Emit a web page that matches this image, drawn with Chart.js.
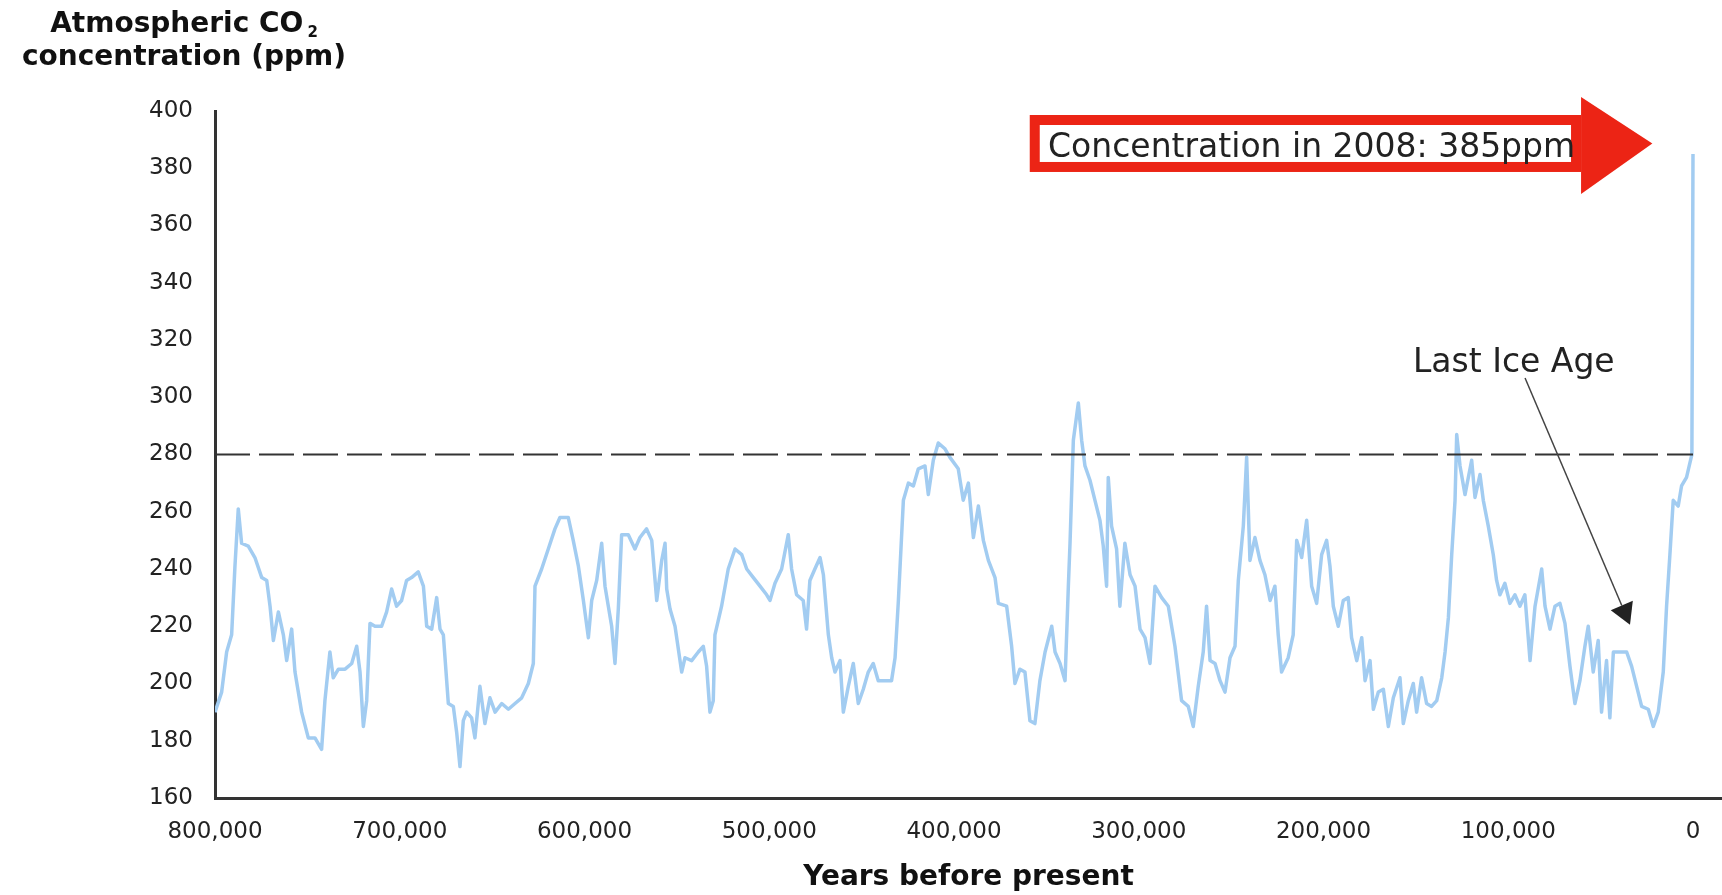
<!DOCTYPE html>
<html>
<head>
<meta charset="utf-8">
<title>Atmospheric CO2 concentration</title>
<script src="https://cdn.jsdelivr.net/npm/chart.js@4/dist/chart.umd.min.js"></script>
<style>
    body { margin: 0; background: #fff; }
    #wrap { position: relative; width: 1722px; height: 895px; }
    #co2Chart { position: absolute; left: 0; top: 0; }
    #yTitle {
        position: absolute; left: 0; top: 6px; width: 368px;
        text-align: center; color: #111;
        font: bold 28px 'DejaVu Sans', sans-serif; line-height: 33px;
    }
    #yTitle sub { font-size: 15px; line-height: 0; vertical-align: -5px; margin-left: 4px; }
</style>
</head>
<body>
<div id="wrap">
    <canvas id="co2Chart" width="1722" height="895"></canvas>
    <div id="yTitle">Atmospheric CO<sub>2</sub><br>concentration (ppm)</div>
</div>
<script>
// Years before present (left to right)
const years = [
    800000, 796400, 793700, 791000, 789200, 787400, 785600, 782000, 778400, 774700,
    772000, 770200, 768400, 765700, 763000, 761200, 758500, 756700, 753100, 749500,
    745900, 742300, 740500, 737800, 736000, 733200, 729600, 726000, 723300, 721500,
    719700, 717900, 716100, 713400, 709800, 707100, 704400, 701700, 699000, 696300,
    693600, 690000, 687200, 685400, 682700, 680000, 678200, 676400, 673700, 671000,
    669200, 667400, 665600, 663800, 661100, 659300, 656600, 653900, 651200, 648400,
    644800, 641200, 637600, 634000, 630400, 627700, 626800, 623200, 619600, 616000,
    613300, 608800, 606100,
    603300, 600600, 597900, 596100, 593400, 590700, 588900, 587100, 585300, 583500,
    581700, 579900, 576300, 572700, 570000, 566400, 563600, 560900, 558200, 556400,
    555500, 553700, 551000, 547400, 545600, 542000, 538400, 535700, 533900, 532100,
    530300, 529400, 525800, 522200, 518500, 514900, 512200, 508600, 505000, 501400,
    499600, 496900, 493300, 489700, 487900, 485200, 481600, 479800, 478000, 475300,
    472500, 470700, 469800, 468000, 466200, 464400, 461700, 459900, 457200, 454500,
    451800, 449100, 446400, 443700, 441000, 437400, 433800, 431900, 430100, 427400,
    424700, 422000, 419300, 415700, 413900, 411200, 408500, 404900,
    402200, 397700, 395000, 392200, 389500, 386800, 384100, 381400, 377800, 376000,
    371500, 368800, 367000, 364300, 361600, 358900, 356200, 353500, 350700, 347100,
    345300, 342600, 339900, 338100, 337200, 335400, 332700, 330900, 329100, 326400,
    323700, 321000, 319200, 317400, 316500, 314700, 312000, 310200, 307500, 304700,
    302000, 299300, 296600, 293900, 291200, 287600, 284000, 280400, 276800, 273200,
    270500, 267800, 265100, 263300, 261400, 258700, 256000, 253300, 250600, 247900,
    246100, 243400, 241600, 239800, 237100, 234400, 231700, 228900, 226300, 224500,
    222700, 219100, 216400, 214500, 211800, 209100, 206400, 203700,
    201000, 198300, 196500, 194700, 192000, 189300, 186600, 184800, 182000, 179300,
    177500, 174800, 173000, 170300, 167600, 164900, 162200, 158600, 156800, 154100,
    151400, 149600, 146900, 144200, 141500, 138700, 136000, 134200, 132400, 130600,
    128800, 127900, 126100, 123400, 119800, 118000, 115300, 113500, 110800, 108100,
    106300, 104500, 101800, 99100, 96400, 93700, 91000, 88200, 85500, 81900,
    80100, 77400, 74700, 72000, 69300, 66600, 63900, 61200, 58500, 56700,
    54000, 51300, 49500, 46800, 45000, 43100, 39500, 35900, 33200, 30500,
    27800, 24200, 21500, 18800, 16100, 14300, 12500, 10700, 8000, 6200,
    3500, 1700, 600, 0
];

// Atmospheric CO2 (ppm) for each entry of years
const co2Ppm = [
    190, 197, 211, 217, 241, 261, 249, 248, 244, 237,
    236, 227, 215, 225, 217, 208, 219, 204, 190, 181,
    181, 177, 194, 211, 202, 205, 205, 207, 213, 204,
    185, 194, 221, 220, 220, 225, 233, 227, 229, 236,
    237, 239, 234, 220, 219, 230, 219, 217, 193, 192,
    183, 171, 187, 190, 188, 181, 199, 186, 195, 190,
    193, 191, 193, 195, 200, 207, 234, 240, 247, 254,
    258, 258, 250,
    241, 229, 216, 229, 236, 249, 234, 227, 220, 207,
    226, 252, 252, 247, 251, 254, 250, 229, 243, 249,
    233, 226, 220, 204, 209, 208, 211, 213, 206, 190,
    194, 217, 227, 240, 247, 245, 240, 237, 234, 231,
    229, 235, 240, 252, 240, 231, 229, 219, 236, 240,
    244, 238, 231, 217, 209, 204, 208, 190, 199, 207,
    193, 198, 204, 207, 201, 201, 201, 209, 229, 264,
    270, 269, 275, 276, 266, 278, 284, 282,
    279, 275, 264, 270, 251, 262, 250, 243, 237, 228,
    227, 213, 200, 205, 204, 187, 186, 201, 211, 220,
    211, 207, 201, 234, 249, 285, 298, 285, 276, 271,
    264, 257, 248, 234, 272, 255, 247, 227, 249, 238,
    234, 219, 216, 207, 234, 230, 227, 213, 194, 192,
    185, 199, 211, 227, 208, 207, 201, 197, 209, 213,
    236, 255, 279, 243, 251, 243, 238, 229, 234, 217,
    204, 209, 217, 250, 244, 257, 234, 228,
    245, 250, 241, 227, 220, 229, 230, 216, 208, 216,
    201, 208, 191, 197, 198, 185, 195, 202, 186, 194,
    200, 190, 202, 193, 192, 194, 202, 211, 223, 245,
    264, 287, 276, 266, 278, 265, 273, 264, 255, 245,
    236, 231, 235, 228, 231, 227, 231, 208, 227, 240,
    227, 219, 227, 228, 221, 206, 193, 201, 213, 220,
    204, 215, 190, 208, 188, 211, 211, 211, 206, 199,
    192, 191, 185, 190, 204, 227, 245, 264, 262, 269,
    272, 277, 280, 385
];

const xTickValues = [800000, 700000, 600000, 500000, 400000, 300000, 200000, 100000, 0];
const preIndustrialPpm = 280;

const calloutText = 'Concentration in 2008: 385ppm';
const iceAgeText = 'Last Ice Age';

// Annotation anchors, in data units (years, ppm)
const callout = { boxFrom: 359000, boxTo: 60600, boxTop: 398.6, boxBottom: 378.7,
                  headTop: 404.9, headBottom: 371, tip: 22000, textX: 349100, textY: 383.9 };
const iceAgeNote = { textX: 151600, textY: 308.8, fromX: 90900, fromY: 306.7, toX: 34100, toY: 220.5 };

document.addEventListener('DOMContentLoaded', () => {
    const ctx = document.getElementById('co2Chart').getContext('2d');
    const tickFont = { family: "'DejaVu Sans', sans-serif", size: 23 };

    // Draws the red arrow callout and the "Last Ice Age" pointer
    const annotationPlugin = {
        id: 'annotations',
        afterDraw(chart) {
            const c = chart.ctx;
            const px = v => chart.scales.x.getPixelForValue(v);
            const py = v => chart.scales.y.getPixelForValue(v);
            const red = '#ec2415';
            c.save();

            // 1. callout body
            const bw = 10;
            const left = px(callout.boxFrom), right = px(callout.boxTo);
            const top = py(callout.boxTop), bottom = py(callout.boxBottom);
            c.fillStyle = '#fff';
            c.fillRect(left, top, right - left, bottom - top);
            c.strokeStyle = red;
            c.lineWidth = bw;
            c.strokeRect(left + bw / 2, top + bw / 2, right - left - bw, bottom - top - bw);

            c.font = "33px 'DejaVu Sans', sans-serif";
            c.fillStyle = '#222';
            c.textAlign = 'left';
            c.textBaseline = 'alphabetic';
            c.fillText(calloutText, px(callout.textX), py(callout.textY));

            // 2. arrow head
            c.beginPath();
            c.moveTo(right, py(callout.headTop));
            c.lineTo(px(callout.tip), (top + bottom) / 2);
            c.lineTo(right, py(callout.headBottom));
            c.closePath();
            c.fillStyle = red;
            c.fill();

            // 3. last ice age label + pointer
            c.font = "33px 'DejaVu Sans', sans-serif";
            c.fillStyle = '#222';
            c.fillText(iceAgeText, px(iceAgeNote.textX), py(iceAgeNote.textY));

            const x0 = px(iceAgeNote.fromX), y0 = py(iceAgeNote.fromY);
            const x1 = px(iceAgeNote.toX), y1 = py(iceAgeNote.toY);
            const len = Math.hypot(x1 - x0, y1 - y0);
            const ux = (x1 - x0) / len, uy = (y1 - y0) / len;
            const headLen = 21, headHalf = 12;
            c.strokeStyle = '#444';
            c.lineWidth = 1.5;
            c.beginPath();
            c.moveTo(x0, y0);
            c.lineTo(x1 - ux * headLen, y1 - uy * headLen);
            c.stroke();
            c.beginPath();
            c.moveTo(x1, y1);
            c.lineTo(x1 - ux * headLen - uy * headHalf, y1 - uy * headLen + ux * headHalf);
            c.lineTo(x1 - ux * headLen + uy * headHalf, y1 - uy * headLen - ux * headHalf);
            c.closePath();
            c.fillStyle = '#222';
            c.fill();

            c.restore();
        }
    };

    new Chart(ctx, {
        type: 'line',
        data: {
            datasets: [{
                label: 'CO2',
                data: years.map((yr, i) => ({ x: yr, y: co2Ppm[i] })),
                borderColor: '#a2ccf1',
                borderWidth: 3.5,
                borderJoinStyle: 'round',
                pointRadius: 0,
                tension: 0,
                order: 2
            }, {
                label: 'Pre-industrial',
                data: [{ x: xTickValues[0], y: preIndustrialPpm }, { x: 0, y: preIndustrialPpm }],
                borderColor: '#333',
                borderWidth: 2,
                borderDash: [35, 9],
                pointRadius: 0,
                order: 1
            }]
        },
        options: {
            responsive: false,
            animation: false,
            devicePixelRatio: 1,
            layout: { padding: { top: 111, left: 0, right: 0, bottom: 0 } },
            plugins: { legend: { display: false }, tooltip: { enabled: false } },
            scales: {
                x: {
                    type: 'linear',
                    reverse: true,
                    min: -15700,
                    max: 800000,
                    afterBuildTicks: s => { s.ticks = xTickValues.map(v => ({ value: v })); },
                    afterFit: s => { s.height = 97; },
                    grid: { display: false, drawTicks: false },
                    border: { display: true, color: '#333', width: 3 },
                    ticks: {
                        font: tickFont, color: '#222', padding: 20,
                        maxRotation: 0, autoSkip: false,
                        callback: v => v.toLocaleString('en-US')
                    },
                    title: {
                        display: true, text: 'Years before present', color: '#111',
                        font: { family: "'DejaVu Sans', sans-serif", size: 28, weight: 'bold' },
                        padding: { top: 0, bottom: 0 }
                    }
                },
                y: {
                    min: 160,
                    max: 400,
                    afterFit: s => { s.width = 215; },
                    grid: { display: false, drawTicks: false },
                    border: { display: true, color: '#333', width: 3 },
                    ticks: { stepSize: 20, font: tickFont, color: '#222', padding: 22 }
                }
            }
        },
        plugins: [annotationPlugin]
    });
});
</script>
</body>
</html>
